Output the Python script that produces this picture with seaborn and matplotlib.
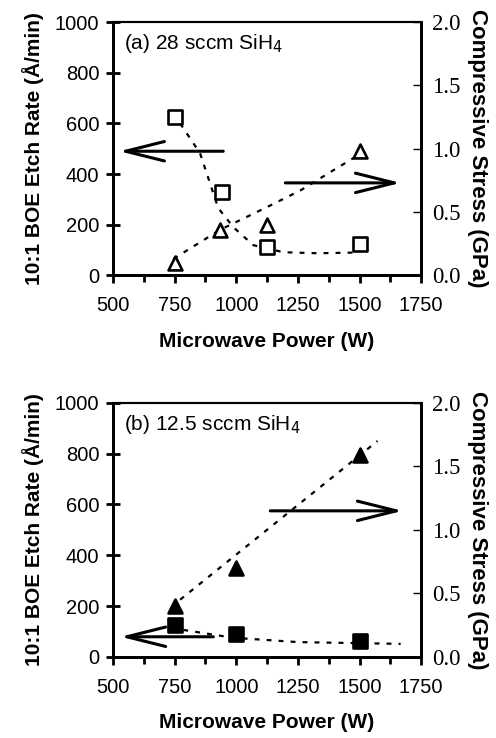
import matplotlib
matplotlib.use("Agg")
import matplotlib.pyplot as plt
import seaborn as sns
import pandas as pd
from matplotlib.ticker import MultipleLocator

sns.set_style("ticks")
plt.rcParams['font.family'] = ['Liberation Sans', 'DejaVu Sans']
plt.rcParams.update({'text.color': 'black', 'axes.labelcolor': 'black',
                     'xtick.color': 'black', 'ytick.color': 'black',
                     'axes.edgecolor': 'black'})

# ---- data ----
# panel (a) 28 sccm SiH4
a_power_etch = [750, 940, 1125, 1500]
a_etch = [625, 330, 110, 125]
a_power_stress = [750, 935, 1125, 1500]
a_stress = [0.10, 0.36, 0.40, 0.98]
a_etch_trend_x = [772, 853, 927, 988, 1069, 1191, 1329, 1496]
a_etch_trend_y = [600, 482, 265, 190, 119, 91, 87, 90]
a_stress_trend_x = [745, 935, 1126, 1260, 1394, 1496]
a_stress_trend_y = [0.13, 0.36, 0.54, 0.67, 0.83, 0.95]

# panel (b) 12.5 sccm SiH4
b_power = [750, 1000, 1500]
b_etch = [125, 88, 62]
b_stress = [0.40, 0.70, 1.59]
b_etch_trend_x = [785, 988, 1250, 1667]
b_etch_trend_y = [106, 75, 58, 51]
b_stress_trend_x = [772, 1573]
b_stress_trend_y = [0.45, 1.70]

panel_titles = ["(a) 28 sccm SiH$_4$", "(b) 12.5 sccm SiH$_4$"]
x_ticks = [500, 750, 1000, 1250, 1500, 1750]
left_ticks = [0, 200, 400, 600, 800, 1000]
right_ticks = [0.0, 0.5, 1.0, 1.5, 2.0]

fig = plt.figure(figsize=(4.96, 7.38), dpi=100)
ax_a = fig.add_axes([0.228, 0.627, 0.621, 0.343])
ax_b = fig.add_axes([0.228, 0.110, 0.621, 0.344])

panels = [
    dict(ax=ax_a, pe=a_power_etch, e=a_etch, ps=a_power_stress, s=a_stress,
         etx=a_etch_trend_x, ety=a_etch_trend_y, stx=a_stress_trend_x, sty=a_stress_trend_y,
         fill=False, title=panel_titles[0],
         larrow=((947, 490), (525, 490)), rarrow=((1199, 365), (1667, 365))),
    dict(ax=ax_b, pe=b_power, e=b_etch, ps=b_power, s=b_stress,
         etx=b_etch_trend_x, ety=b_etch_trend_y, stx=b_stress_trend_x, sty=b_stress_trend_y,
         fill=True, title=panel_titles[1],
         larrow=((907, 79), (530, 79)), rarrow=((1138, 575), (1675, 575))),
]

arrow_style = '->,head_length=1.4,head_width=0.35'

for p in panels:
    ax = p['ax']
    ax2 = ax.twinx()
    fc = 'black' if p['fill'] else 'white'
    # trend lines
    sns.lineplot(x=p['etx'], y=p['ety'], ax=ax, color='black', lw=1.6,
                 linestyle=(0, (2.2, 3.2)), sort=False, zorder=2)
    sns.lineplot(x=p['stx'], y=p['sty'], ax=ax2, color='black', lw=1.6,
                 linestyle=(0, (2.2, 3.2)), sort=False, zorder=2)
    # markers
    sns.scatterplot(x=p['pe'], y=p['e'], ax=ax, marker='s', s=90,
                    facecolor=fc, edgecolor='black', linewidth=1.9, zorder=3)
    sns.scatterplot(x=p['ps'], y=p['s'], ax=ax2, marker='^', s=100,
                    facecolor=fc, edgecolor='black', linewidth=1.9, zorder=3)

    ax.set_xlim(500, 1750)
    ax.set_ylim(0, 1000)
    ax2.set_ylim(0, 2.0)
    ax.set_xticks(x_ticks)
    ax.xaxis.set_minor_locator(MultipleLocator(125))
    ax.set_yticks(left_ticks)
    ax2.set_yticks(right_ticks)
    ax2.set_yticklabels([f"{v:.1f}" for v in right_ticks],
                        fontfamily='Liberation Serif', fontsize=16.5)
    ax.tick_params(axis='x', which='major', direction='out', length=6, width=2,
                   labelsize=14.5, pad=9)
    ax.tick_params(axis='x', which='minor', direction='out', length=5, width=2)
    ax.tick_params(axis='y', which='major', direction='inout', length=10, width=2,
                   labelsize=14.5, pad=5)
    ax2.tick_params(axis='y', which='major', direction='in', length=6, width=1,
                    pad=8)
    for side in ['left', 'bottom', 'right']:
        ax.spines[side].set_linewidth(2)
        ax2.spines[side].set_linewidth(2)
    ax.spines['top'].set_linewidth(1.5)
    ax2.spines['top'].set_linewidth(1.5)

    ax.set_xlabel("Microwave Power (W)", fontsize=15, fontweight='bold', labelpad=12)
    ax.set_ylabel("10:1 BOE Etch Rate (Å/min)", fontsize=15, fontweight='bold', labelpad=8)
    ax2.set_ylabel("Compressive Stress (GPa)", fontsize=16, fontweight='bold',
                   rotation=270, labelpad=20)

    ax.text(0.035, 0.96, p['title'], transform=ax.transAxes, fontsize=15,
            va='top', ha='left')

    for (x0, y0), (x1, y1) in (p['larrow'], p['rarrow']):
        ax.annotate("", xy=(x1, y1), xytext=(x0, y0),
                    arrowprops=dict(arrowstyle=arrow_style, mutation_scale=20,
                                    lw=2.2, color='black', shrinkA=0, shrinkB=0))

fig.savefig("out.png", dpi=100)
